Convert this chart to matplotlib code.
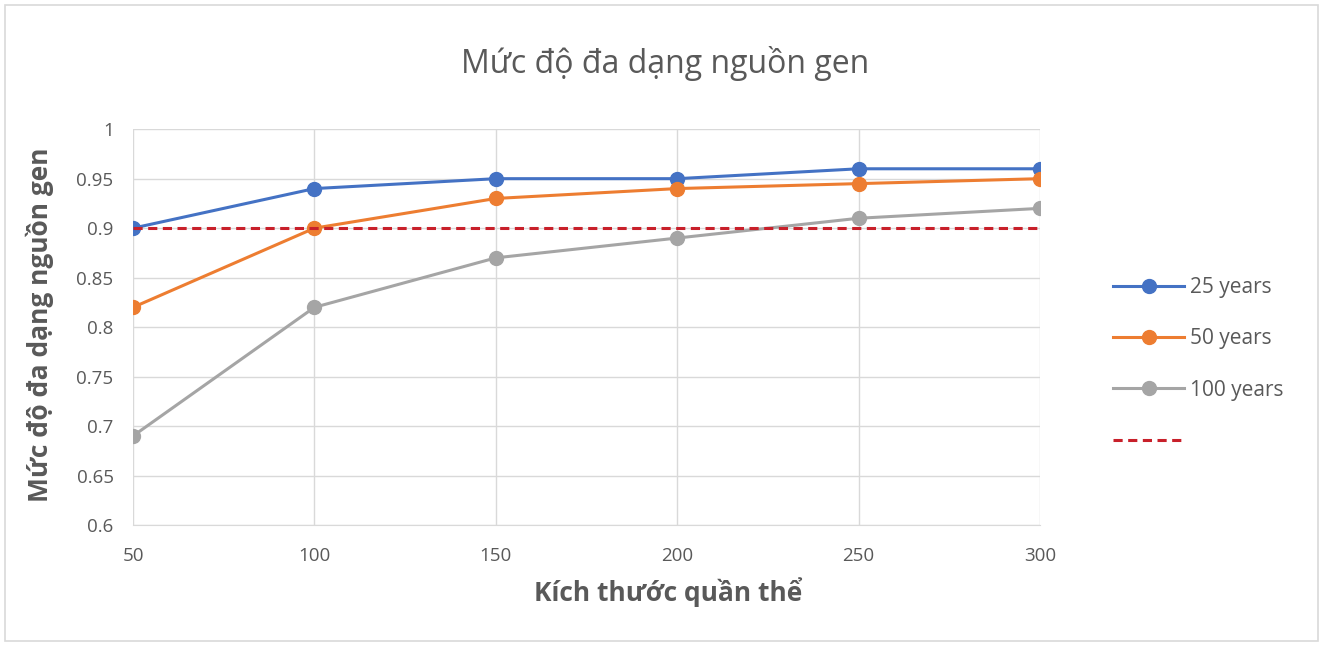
"""
Mức độ đa dạng nguồn gen theo kích thước quần thể
"""

import matplotlib
matplotlib.use('Agg')
import matplotlib.pyplot as plt
from matplotlib.patches import Rectangle

plt.rcParams['font.family'] = ['Open Sans', 'DejaVu Sans']

# Dữ liệu
sizes = [50, 100, 150, 200, 250, 300]
years_25 = [0.90, 0.94, 0.95, 0.95, 0.96, 0.96]
years_50 = [0.82, 0.90, 0.93, 0.94, 0.945, 0.95]
years_100 = [0.69, 0.82, 0.87, 0.89, 0.91, 0.92]
threshold = 0.9
y_ticks = [0.6, 0.65, 0.7, 0.75, 0.8, 0.85, 0.9, 0.95, 1]
y_tick_labels = ['0.6', '0.65', '0.7', '0.75', '0.8', '0.85', '0.9', '0.95', '1']

text_color = '#595959'
grid_color = '#D9D9D9'

fig = plt.figure(figsize=(13.25, 6.46), dpi=100)
fig.patch.set_facecolor('white')
# Khung ngoài của biểu đồ
fig.patches.append(Rectangle((0.004, 0.008), 0.991, 0.984, transform=fig.transFigure,
                             fill=False, edgecolor='#D9D9D9', linewidth=1.2))

ax = fig.add_axes([0.1004, 0.1873, 0.6845, 0.6127])

series = [
    (years_25, '#4472C4', '25 years'),
    (years_50, '#ED7D31', '50 years'),
    (years_100, '#A5A5A5', '100 years'),
]
for values, color, label in series:
    ax.plot(sizes, values, color=color, linewidth=2.2, marker='o', markersize=10,
            label=label, zorder=3)

ax.plot([sizes[0], sizes[-1]], [threshold, threshold], color='#C8202A',
        linestyle=(0, (3, 1.8)), linewidth=2.2, label=' ', zorder=4)

ax.set_xlim(sizes[0], sizes[-1])
ax.set_ylim(0.6, 1.0)
ax.set_xticks(sizes)
ax.set_xticklabels([str(s) for s in sizes])
ax.set_yticks(y_ticks)
ax.set_yticklabels(y_tick_labels)
ax.grid(True, color=grid_color, linewidth=1)
ax.set_axisbelow(True)
for side in ['top', 'right', 'left']:
    ax.spines[side].set_visible(False)
ax.spines['bottom'].set_color(grid_color)
ax.tick_params(axis='both', length=0, labelsize=13.5, colors=text_color)
ax.tick_params(axis='x', pad=16)
ax.tick_params(axis='y', pad=14)

fig.text(0.502, 0.902, 'Mức độ đa dạng nguồn gen', fontsize=23, color=text_color,
         ha='center', va='center')
ax.set_xlabel('Kích thước quần thể', fontsize=19, fontweight='bold', color=text_color,
              va='center', ha='center')
ax.xaxis.set_label_coords(0.59, -0.169)
ax.set_ylabel('Mức độ đa dạng nguồn gen', fontsize=19, fontweight='bold', color=text_color,
              va='center', ha='center')
ax.yaxis.set_label_coords(-0.1025, 0.505)

leg = fig.legend(loc='center left', bbox_to_anchor=(0.826, 0.4357), frameon=False,
                 fontsize=15, labelspacing=1.45, handlelength=3.4, handletextpad=0.3,
                 bbox_transform=fig.transFigure)
for t in leg.get_texts():
    t.set_color(text_color)

fig.savefig('out.png', dpi=100, facecolor='white')
